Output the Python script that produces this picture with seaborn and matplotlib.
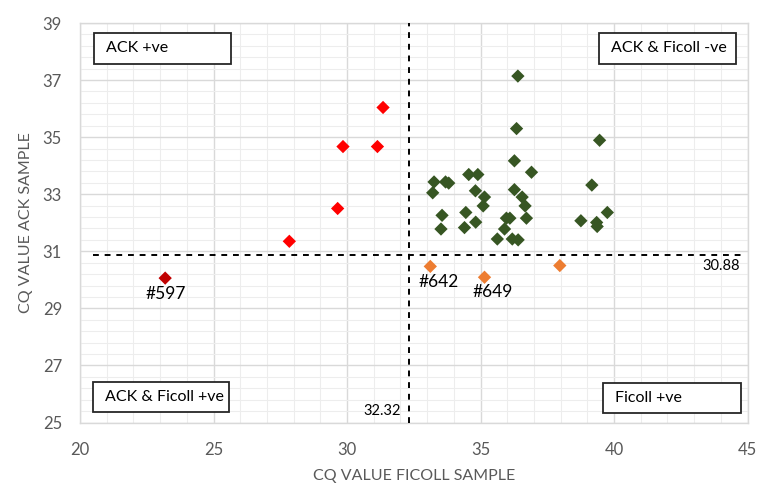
import numpy as np
import pandas as pd
import matplotlib
matplotlib.use("Agg")
import matplotlib.pyplot as plt
from matplotlib.ticker import FixedLocator, MultipleLocator
from matplotlib.patches import Rectangle
import seaborn as sns

# ---- data ----
green_x = [36.40, 36.35, 39.46, 36.27, 36.91, 34.56, 34.90, 33.26, 33.69, 33.81,
           33.21, 34.81, 36.27, 39.17, 35.15, 36.56, 35.10, 36.67, 33.56, 34.45,
           35.97, 36.10, 36.72, 39.75, 38.76, 39.35, 39.37, 33.52, 34.40, 34.82,
           35.90, 35.63, 36.19, 36.41]
green_y = [37.14, 35.30, 34.89, 34.17, 33.77, 33.69, 33.69, 33.43, 33.43, 33.39,
           33.05, 33.12, 33.16, 33.32, 32.90, 32.90, 32.59, 32.59, 32.26, 32.36,
           32.16, 32.16, 32.16, 32.36, 32.07, 32.01, 31.87, 31.78, 31.83, 32.02,
           31.78, 31.43, 31.43, 31.40]
red_x = [31.35, 29.85, 31.14, 29.65, 27.84]
red_y = [36.04, 34.67, 34.67, 32.50, 31.35]
darkred_x = [23.19]
darkred_y = [30.06]
orange_x = [33.12, 35.15, 37.97]
orange_y = [30.47, 30.09, 30.50]

cutoff_x = 32.32
cutoff_y = 30.88

x_ticks = [20, 25, 30, 35, 40, 45]
y_ticks = [25, 27, 29, 31, 33, 35, 37, 39]

point_labels = ["#597", "#642", "#649"]
quadrant_labels = ["ACK +ve", "ACK & Ficoll -ve", "ACK & Ficoll +ve", "Ficoll +ve"]

df = pd.DataFrame({
    "x": green_x + red_x + darkred_x + orange_x,
    "y": green_y + red_y + darkred_y + orange_y,
    "grp": (["Both -ve"] * len(green_x) + ["ACK +ve"] * len(red_x)
            + ["Both +ve"] * len(darkred_x) + ["Ficoll +ve"] * len(orange_x)),
})
palette = {"Both -ve": "#375623", "ACK +ve": "#FF0000",
           "Both +ve": "#C00000", "Ficoll +ve": "#ED7D31"}

sns.set_theme(style="white")
plt.rcParams["font.family"] = ["Lato", "DejaVu Sans"]

fig = plt.figure(figsize=(7.65, 4.93), dpi=100)
AX_L, AX_R, AX_T, AX_B = 80, 747.5, 23, 422.5
ax = fig.add_axes([AX_L / 765, 1 - AX_B / 493, (AX_R - AX_L) / 765, (AX_B - AX_T) / 493])

sns.scatterplot(data=df, x="x", y="y", hue="grp", palette=palette, marker="D",
                s=46, edgecolor="none", legend=False, ax=ax, zorder=4)

ax.set_xlim(20, 45)
ax.set_ylim(25, 39)
ax.xaxis.set_major_locator(FixedLocator(x_ticks))
ax.yaxis.set_major_locator(FixedLocator(y_ticks))
ax.xaxis.set_minor_locator(MultipleLocator(1))
ax.yaxis.set_minor_locator(FixedLocator(list(np.arange(25, 39.01, 0.4))))
ax.grid(True, which="major", color="#D9D9D9", linewidth=1.0, zorder=0)
ax.grid(True, which="minor", color="#EDEDED", linewidth=0.8, zorder=0)
ax.set_axisbelow(True)
for sp in ax.spines.values():
    sp.set_color("#D9D9D9")
    sp.set_linewidth(1.0)
ax.tick_params(axis="both", which="both", length=0, labelsize=12, labelcolor="#595959")
ax.tick_params(axis="x", which="major", pad=14)
ax.tick_params(axis="y", which="major", pad=13)

ax.set_xlabel("CQ VALUE FICOLL SAMPLE", fontsize=11.5, color="#595959", labelpad=8)
ax.set_ylabel("CQ VALUE ACK SAMPLE", fontsize=11.5, color="#595959", labelpad=7)

ax.axvline(cutoff_x, color="black", linestyle=(0, (3, 3)), linewidth=1.4, zorder=3)
ax.axhline(cutoff_y, xmin=0.02, xmax=0.995, color="black", linestyle=(0, (3, 3)),
           linewidth=1.4, zorder=3)

ax.text(44.0, cutoff_y - 0.4, f"{cutoff_y:.2f}", fontsize=10.5, color="black",
        ha="center", va="center")
ax.text(cutoff_x - 0.3, 25.4, f"{cutoff_x:.2f}", fontsize=10.5, color="black",
        ha="right", va="center")

ax.text(darkred_x[0] + 0.03, darkred_y[0] - 0.55, point_labels[0], fontsize=12.5,
        ha="center", va="center", color="black")
ax.text(orange_x[0] + 0.3, orange_y[0] - 0.55, point_labels[1], fontsize=12.5,
        ha="center", va="center", color="black")
ax.text(orange_x[1] + 0.32, orange_y[1] - 0.51, point_labels[2], fontsize=12.5,
        ha="center", va="center", color="black")


def quad_box(x0, x1, y0, y1, label):
    fx0 = (x0 - AX_L) / (AX_R - AX_L)
    fx1 = (x1 - AX_L) / (AX_R - AX_L)
    fy0 = (AX_B - y1) / (AX_B - AX_T)
    fy1 = (AX_B - y0) / (AX_B - AX_T)
    ax.add_patch(Rectangle((fx0, fy0), fx1 - fx0, fy1 - fy0, transform=ax.transAxes,
                           facecolor="white", edgecolor="#262626", linewidth=1.3,
                           zorder=5, clip_on=False))
    ax.text(fx0 + 12 / (AX_R - AX_L), (fy0 + fy1) / 2, label, transform=ax.transAxes,
            fontsize=11.5, ha="left", va="center", color="black", zorder=6)


quad_box(94, 231, 33, 64, quadrant_labels[0])
quad_box(599, 736, 33, 64, quadrant_labels[1])
quad_box(93, 229, 382, 412, quadrant_labels[2])
quad_box(603, 741, 383, 413, quadrant_labels[3])

fig.savefig("out.png", dpi=100)
